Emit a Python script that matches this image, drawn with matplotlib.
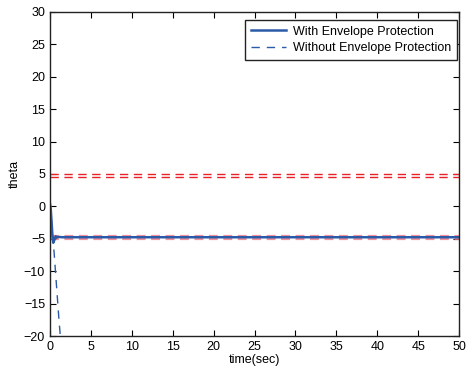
import matplotlib
matplotlib.use("Agg")
import matplotlib.pyplot as plt
import numpy as np

plt.rcParams["font.family"] = ["Liberation Sans", "DejaVu Sans"]

# theta response, with and without envelope protection
t_with = [0.0, 0.1, 0.2, 0.3, 0.4, 0.5, 0.6, 0.7, 0.8, 1.0, 1.5, 2.0, 50.0]
theta_with = [0.4, -0.5, -2.5, -4.5, -5.6, -5.3, -4.9, -4.6, -4.8, -4.7, -4.75, -4.75, -4.75]
t_without = [0.0, 0.1, 0.2, 0.3, 0.4, 0.5, 0.7, 0.9, 1.1, 1.3]
theta_without = [0.4, -0.5, -2.5, -4.5, -5.8, -7.0, -10.5, -14.0, -17.5, -20.5]

# envelope limits
limits_upper = [4.5, 5.0]
limits_lower = [-4.5, -5.0]

fig = plt.figure(figsize=(4.67, 3.71), dpi=100)
ax = fig.add_axes([0.107, 0.094, 0.876, 0.874])

for y in limits_upper:
    ax.plot([0, 50], [y, y], color="#e8202a", lw=1.0, dashes=(6, 4))
for y in limits_lower:
    ax.plot([0, 50], [y, y], color="#f07880", lw=1.6, dashes=(4, 2.5), alpha=0.8)

ax.plot(t_with, theta_with, color="#2a5aa8", lw=1.8, label="With Envelope Protection")
ax.plot(t_without, theta_without, color="#2a5aa8", lw=1.0, dashes=(6, 5),
        label="Without Envelope Protection")

ax.set_xlim(0, 50)
ax.set_ylim(-20, 30)
ax.set_xticks(np.arange(0, 51, 5))
ax.set_yticks(np.arange(-20, 31, 5))
ax.tick_params(direction="in", top=True, right=True, labelsize=9, length=4, width=0.8)
for s in ax.spines.values():
    s.set_linewidth(1.0)
    s.set_color("#222222")
ax.set_xlabel("time(sec)", fontsize=9, labelpad=1)
ax.set_ylabel("theta", fontsize=9, labelpad=2)

handles, labels = ax.get_legend_handles_labels()
ax.legend(handles[-2:], labels[-2:], loc="upper right", fontsize=9, frameon=True,
          fancybox=False, edgecolor="#222222", framealpha=1, borderpad=0.45,
          handlelength=2.8, handletextpad=0.6, labelspacing=0.35,
          bbox_to_anchor=(0.995, 0.975), borderaxespad=0)

fig.savefig("out.png", dpi=100)
